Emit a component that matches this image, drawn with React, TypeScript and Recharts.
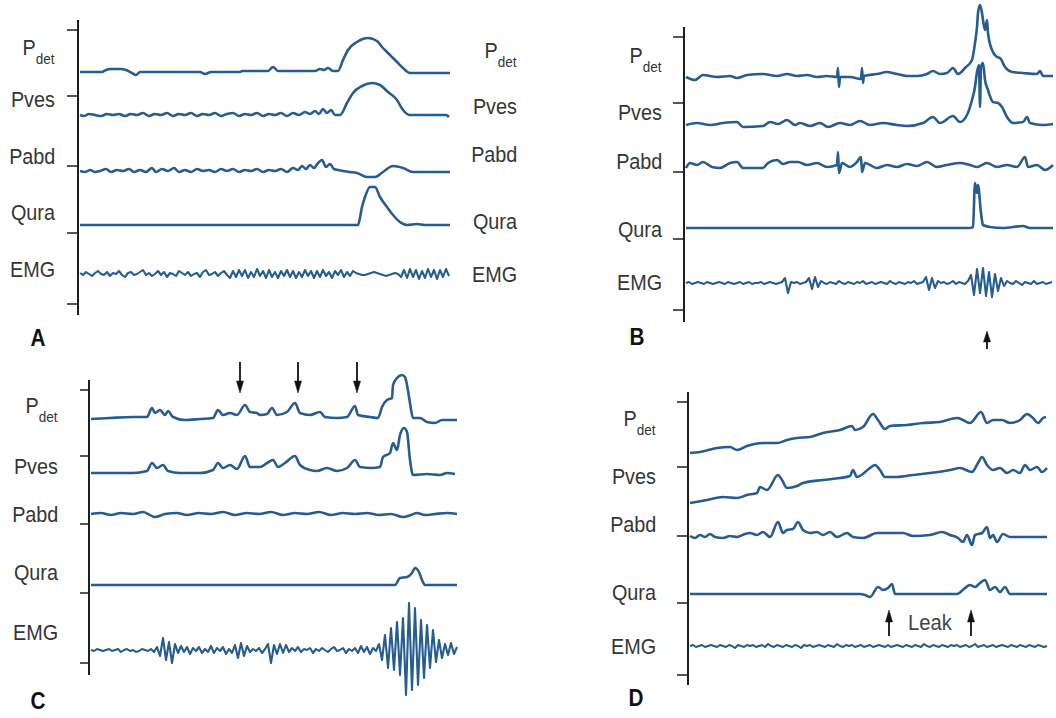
import React from 'react';
import { LineChart, Line, XAxis, YAxis, ReferenceLine } from 'recharts';

type Pt = [number, number];

const CHANNELS = ['Pdet', 'Pves', 'Pabd', 'Qura', 'EMG'];
const EMG_STEP = 3; // EMG lists are sampled every 3 time units

// ---------- Panel A ----------
const A_PDET: Pt[] = [[0,0],[22,0],[26,2],[31,3],[40,3],[46,2],[52,-1],[56,-3],[60,0],[120,0],[125,-2],[131,0],[160,0],[162,1],[188,1],[193,5],[198,1],[235,1],[240,3],[244,2],[248,4],[253,1],[258,1],[263,12],[268,22],[277,30],[288,34],[297,31],[302,25],[308,19],[317,10],[323,4],[330,-1],[370,-1]];
const A_PVES: Pt[] = [[0,0],[4,-1],[9,1],[15,0],[21,-1],[27,1],[33,0],[39,1],[45,-1],[51,1],[57,0],[63,2],[69,-1],[75,1],[81,0],[87,2],[93,-1],[99,1],[105,0],[111,2],[117,-1],[123,1],[129,0],[135,2],[141,-1],[147,1],[153,2],[159,-1],[165,1],[171,0],[177,2],[183,-1],[189,1],[195,0],[201,2],[207,-1],[213,2],[219,0],[225,3],[230,1],[235,4],[239,1],[243,6],[247,2],[251,5],[255,0],[260,0],[267,12],[273,22],[282,29],[292,32],[300,30],[308,23],[317,15],[323,5],[330,0],[366,0],[369,-2]];
const A_PABD: Pt[] = [[0,0],[5,-1],[10,1],[15,-1],[20,0],[26,2],[31,-1],[37,1],[43,0],[49,2],[54,-1],[60,1],[66,-1],[72,3],[76,-1],[82,2],[88,0],[94,3],[99,-1],[105,1],[111,-1],[117,2],[123,0],[129,1],[135,-1],[141,2],[147,0],[153,2],[159,-1],[165,1],[171,0],[177,2],[183,-1],[189,1],[195,0],[201,2],[207,-1],[213,3],[218,1],[222,5],[226,2],[230,6],[234,3],[238,8],[242,11],[246,4],[250,7],[254,2],[258,1],[263,0],[270,-1],[277,-2],[287,-6],[295,-6],[303,-1],[313,5],[323,3],[333,-1],[370,-1]];
const A_QURA: Pt[] = [[0,0],[278,0],[282,18],[285,28],[290,38],[295,38],[300,28],[307,18],[313,10],[320,3],[327,0],[337,1],[345,0],[370,0]];
const A_EMG: number[] = [
  1,-1,2,0,-2,1,3,0,-1,2,-2,1,0,3,-1,-3,1,2,-1,0,2,4,-1,1,-2,0,3,-1,2,-3,1,0,-2,3,1,-1,2,-2,0,1,-3,2,4,-1,0,2,-2,1,3,-1,
  -4,3,-3,4,-2,4,-4,2,-3,5,-2,3,-4,4,-3,2,-4,3,-2,4,-3,3,-4,2,-3,4,-2,3,-4,3,-3,4,-2,2,-4,3,-1,4,-3,2,-2,3,
  1,0,-1,-1,0,1,2,1,0,-1,-2,-1,0,1,0,
  -3,4,-4,5,-3,4,-5,3,-4,5,-3,4,-5,4,-3,5,-2,
];

// ---------- Panel B ----------
const B_PDET: Pt[] = [[0,-1],[9,-4],[17,1],[31,-1],[44,0],[51,-2],[61,1],[77,2],[91,0],[101,2],[111,0],[121,1],[131,-1],[141,0],[151,-1],[152,8],[153,-11],[154,-1],[164,-1],[175,-3],[176,8],[177,-7],[178,0],[191,2],[201,4],[211,2],[221,0],[231,0],[241,2],[247,5],[254,2],[261,3],[267,8],[272,2],[279,8],[286,16],[289,33],[291,49],[292,63],[294,71],[296,63],[297,56],[299,46],[301,56],[302,43],[306,26],[311,19],[314,18],[319,9],[326,4],[337,3],[351,2],[354,5],[357,0],[367,0]];
const B_PVES: Pt[] = [[0,0],[11,2],[24,0],[37,2],[51,3],[57,-2],[77,-1],[84,3],[92,1],[101,5],[109,0],[114,2],[124,-1],[134,2],[142,-2],[154,2],[164,0],[174,4],[184,0],[197,2],[211,0],[221,-1],[237,2],[247,8],[254,2],[267,9],[274,3],[281,10],[286,25],[289,38],[291,53],[293,60],[294,18],[295,58],[297,62],[299,45],[302,35],[307,23],[312,22],[316,18],[321,8],[327,2],[337,3],[341,8],[344,2],[357,0],[367,1]];
const B_PABD: Pt[] = [[0,-2],[4,3],[11,1],[17,4],[26,-1],[34,-2],[44,3],[51,4],[57,-2],[77,-2],[82,3],[91,6],[97,2],[104,4],[112,4],[121,1],[131,3],[141,-1],[151,1],[152,14],[153,-7],[156,3],[164,-1],[171,4],[175,9],[176,-6],[179,3],[191,-2],[201,1],[211,-1],[221,2],[231,0],[241,4],[251,-1],[261,1],[274,3],[284,1],[291,-1],[301,3],[311,-1],[321,1],[331,-1],[339,9],[342,-1],[351,1],[359,-4],[367,1]];
const B_QURA: Pt[] = [[0,0],[284,0],[287,1],[289,45],[291,35],[292,43],[295,15],[297,3],[304,1],[317,0],[337,2],[344,0],[367,0]];
const B_EMG: number[] = [
  0,1,-1,0,1,0,-1,1,0,-1,0,1,0,-1,1,0,-1,0,1,-1,0,1,-1,0,0,1,-1,0,1,0,-1,0,1,
  5,-10,1,
  0,1,-1,0,1,
  5,-6,6,-4,2,
  0,-1,1,0,-1,2,0,-1,1,0,-1,1,0,2,-1,0,1,-1,0,1,0,-1,2,0,-1,1,0,-1,1,0,2,-1,0,1,
  6,-7,5,-5,2,
  0,1,-1,0,2,-1,1,0,-1,2,
  8,-12,14,-10,15,-13,11,-14,9,-8,5,
  -3,2,0,-1,2,0,-2,1,0,-1,2,-1,0,1,-1,0,1,
];

// ---------- Panel C ----------
const C_PDET: Pt[] = [[0,0],[19,1],[42,2],[56,2],[61,11],[64,6],[69,9],[74,4],[77,8],[82,2],[94,-1],[109,0],[122,1],[127,9],[132,4],[139,6],[146,4],[154,14],[159,7],[166,6],[169,4],[176,5],[181,11],[186,4],[196,7],[204,16],[209,6],[219,4],[229,7],[234,2],[246,1],[256,2],[264,13],[267,4],[279,2],[287,1],[291,12],[296,19],[301,21],[302,34],[306,41],[311,44],[314,42],[316,34],[319,16],[322,1],[329,1],[336,-3],[344,-4],[351,-1],[366,-1]];
const C_PVES: Pt[] = [[0,0],[42,0],[56,2],[61,10],[66,5],[72,8],[77,2],[89,0],[109,0],[122,3],[127,10],[132,5],[139,8],[146,4],[154,17],[159,6],[169,6],[176,10],[182,13],[187,6],[194,10],[204,17],[209,8],[219,3],[226,2],[236,5],[246,2],[256,5],[264,13],[269,6],[281,5],[289,6],[292,16],[299,20],[302,30],[306,23],[309,38],[313,45],[316,41],[319,13],[322,-2],[336,-1],[349,-2],[356,0],[364,-1]];
const C_PABD: Pt[] = [[0,0],[10,1],[20,-1],[30,1],[42,0],[52,2],[64,-3],[74,0],[86,1],[96,-1],[108,1],[120,0],[132,2],[144,-1],[156,1],[168,0],[180,2],[192,-1],[204,1],[216,0],[228,2],[240,-1],[252,1],[264,0],[276,1],[288,-1],[300,0],[312,-3],[320,-1],[326,1],[334,-1],[344,0],[356,1],[366,0]];
const C_QURA: Pt[] = [[0,0],[304,0],[309,7],[316,8],[321,12],[324,17],[328,13],[331,5],[334,0],[366,0]];
const C_EMG: number[] = [
  0,-1,1,0,-1,0,1,-1,0,1,-2,0,1,-1,0,-2,-1,1,0,-1,
  1,-2,3,-6,12,-10,8,-13,6,-3,
  4,-2,3,-4,2,-1,3,-3,1,-2,4,-3,2,-1,3,-4,1,
  -3,5,-8,7,-6,4,-2,
  1,-1,2,-3,1,
  6,-13,5,-4,6,-3,5,-2,
  2,-1,3,-2,1,0,2,-3,1,-1,2,0,-2,1,3,-1,0,2,-3,1,-1,2,-3,4,-2,3,-4,2,-1,
  6,-10,15,-18,22,-20,28,-25,32,
  -45,47,-40,42,-35,30,
  -28,25,-18,20,-12,10,
  -8,6,-5,7,-4,3,
];

// ---------- Panel D ----------
const D_PDET: Pt[] = [[0,0],[10,1],[27,5],[40,6],[47,3],[57,7],[73,10],[87,10],[97,13],[107,15],[120,16],[133,20],[150,23],[162,27],[165,23],[173,26],[183,39],[188,33],[195,24],[200,27],[217,28],[233,30],[250,31],[267,35],[273,33],[280,30],[291,41],[297,30],[303,33],[312,33],[320,30],[330,33],[337,39],[343,35],[348,30],[353,35],[356,36]];
const D_PVES: Pt[] = [[0,0],[17,3],[33,6],[47,5],[57,8],[67,10],[70,16],[77,13],[88,28],[92,23],[97,15],[107,17],[113,20],[133,23],[150,25],[160,27],[163,33],[167,26],[180,35],[185,38],[190,33],[195,26],[207,26],[223,28],[240,30],[260,33],[270,35],[282,31],[288,40],[292,46],[297,38],[303,33],[310,35],[317,30],[323,33],[330,30],[335,38],[340,33],[347,36],[352,31],[357,35]];
const D_PABD: Pt[] = [[0,0],[5,-2],[10,1],[15,-1],[20,2],[25,-1],[33,-2],[40,0],[47,-1],[55,2],[60,3],[67,1],[73,4],[80,-1],[88,14],[93,3],[97,6],[103,7],[108,14],[113,6],[120,3],[127,4],[133,1],[140,4],[147,-1],[157,3],[163,-1],[173,-2],[187,3],[213,3],[223,0],[240,1],[252,4],[260,1],[268,-2],[273,-6],[277,1],[282,-9],[285,1],[292,3],[297,9],[300,-2],[303,1],[307,-6],[313,2],[320,-1],[333,-1],[357,-1]];
const D_QURA: Pt[] = [[0,0],[170,0],[175,-1],[180,-3],[188,7],[193,4],[198,6],[202,10],[205,0],[267,0],[275,6],[280,9],[285,7],[290,11],[295,14],[300,4],[305,7],[310,2],[315,7],[320,0],[357,0]];
const D_EMG: number[] = [
  0,1,-1,0,1,-1,0,1,0,-1,1,0,-1,1,0,-2,1,0,-1,1,0,1,-1,0,1,-1,2,0,-1,1,
  0,-1,1,0,-1,1,0,-2,1,0,1,-1,0,1,0,-1,1,0,-1,2,0,-1,1,0,1,-1,0,1,-1,0,
  1,-1,0,1,0,-1,1,-1,0,1,0,-1,1,0,-1,1,0,-1,2,0,-1,1,0,-1,1,0,-1,1,0,1,
  -1,0,1,-1,0,2,-1,0,1,-1,0,1,-1,0,1,0,-1,1,0,-1,1,0,-1,1,0,-1,1,0,-1,0,
];

// annotation arrows (time positions)
const B_ARROW_T = [301];
const C_ARROW_T = [149, 207, 266];
const D_LEAK_T = [199, 281];

const toPts = (vals: number[]): Pt[] => vals.map((v, i) => [i * EMG_STEP, v]);

const TRACE = '#265c90';
const INK = '#1e1e1e';
const TEXT = '#353535';
const FONT = '"Liberation Sans", Arial, Helvetica, sans-serif';

interface PanelSpec {
  letter: string;
  box: { left: number; top: number; w: number; h: number };
  t0: number; // pixel offset of time 0 inside the box
  base: number[]; // channel baselines (box y)
  axis: [number, number];
  ticks: number[];
  tickLen: number;
  traces: Pt[][];
  labelCols: { right: number; ys: number[] }[];
  letterPos: [number, number];
}

const PANELS: PanelSpec[] = [
  {
    letter: 'A',
    box: { left: 0, top: 0, w: 528, h: 355 },
    t0: 80,
    base: [72, 115, 171, 225, 274],
    axis: [20, 315],
    ticks: [30, 96, 166, 233, 304],
    tickLen: 11,
    traces: [A_PDET, A_PVES, A_PABD, A_QURA, toPts(A_EMG)],
    labelCols: [
      { right: 55, ys: [48, 100, 157, 213, 270] },
      { right: 517, ys: [51, 107, 155, 222, 275] },
    ],
    letterPos: [38, 338],
  },
  {
    letter: 'B',
    box: { left: 528, top: 0, w: 528, h: 355 },
    t0: 158,
    base: [76, 125, 166, 228, 283],
    axis: [27, 322],
    ticks: [37, 103, 172, 239, 310],
    tickLen: 11,
    traces: [B_PDET, B_PVES, B_PABD, B_QURA, toPts(B_EMG)],
    labelCols: [{ right: 662, ys: [56, 113, 162, 230, 283] }],
    letterPos: [637, 337],
  },
  {
    letter: 'C',
    box: { left: 0, top: 355, w: 528, h: 363 },
    t0: 91,
    base: [64, 118, 159, 230, 295],
    axis: [25, 320],
    ticks: [35, 101, 169, 238, 308],
    tickLen: 9,
    traces: [C_PDET, C_PVES, C_PABD, C_QURA, toPts(C_EMG)],
    labelCols: [{ right: 58, ys: [406, 467, 515, 573, 633] }],
    letterPos: [38, 701],
  },
  {
    letter: 'D',
    box: { left: 528, top: 355, w: 528, h: 363 },
    t0: 162,
    base: [98, 148, 181, 239, 291],
    axis: [37, 330],
    ticks: [47, 112, 181, 248, 320],
    tickLen: 11,
    traces: [D_PDET, D_PVES, D_PABD, D_QURA, toPts(D_EMG)],
    labelCols: [{ right: 656, ys: [419, 477, 525, 593, 647] }],
    letterPos: [636, 698],
  },
];

function buildRows(traces: Pt[][], base: number[], h: number) {
  const map = new Map<number, Record<string, number>>();
  traces.forEach((pts, ci) => {
    pts.forEach(([t, v]) => {
      const row = map.get(t) ?? { t };
      row[`c${ci}`] = h - base[ci] + v;
      map.set(t, row);
    });
  });
  return [...map.values()].sort((a, b) => a.t - b.t);
}

const ChannelLabel: React.FC<{ name: string; right: number; y: number }> = ({ name, right, y }) => (
  <div
    style={{
      position: 'absolute',
      right: 1056 - right,
      top: y,
      transform: 'translateY(-50%) scaleX(0.9)',
      transformOrigin: 'right center',
      fontFamily: FONT,
      fontSize: 22,
      lineHeight: 1,
      color: TEXT,
      whiteSpace: 'nowrap',
    }}
  >
    {name === 'Pdet' ? (
      <>
        P<span style={{ fontSize: 15, position: 'relative', top: 9 }}>det</span>
      </>
    ) : (
      name
    )}
  </div>
);

const Panel: React.FC<{ spec: PanelSpec }> = ({ spec }) => {
  const { box, t0, base, axis, ticks, tickLen } = spec;
  const rows = buildRows(spec.traces, base, box.h);
  const yv = (y: number) => box.h - y;
  const ax = -2;
  return (
    <div style={{ position: 'absolute', left: box.left, top: box.top }}>
      <LineChart width={box.w} height={box.h} data={rows} margin={{ top: 0, right: 0, bottom: 0, left: 0 }}>
        <XAxis type="number" dataKey="t" domain={[-t0, box.w - t0]} hide allowDataOverflow />
        <YAxis type="number" domain={[0, box.h]} hide allowDataOverflow />
        <ReferenceLine
          segment={[{ x: ax, y: yv(axis[0]) }, { x: ax, y: yv(axis[1]) }]}
          stroke={INK}
          strokeWidth={2}
        />
        {ticks.map((ty) => (
          <ReferenceLine
            key={ty}
            segment={[{ x: ax - tickLen, y: yv(ty) }, { x: ax, y: yv(ty) }]}
            stroke={INK}
            strokeWidth={1.5}
          />
        ))}
        {CHANNELS.map((c, i) => (
          <Line
            key={c}
            dataKey={`c${i}`}
            type={i === 4 ? 'linear' : 'monotone'}
            stroke={TRACE}
            strokeWidth={i === 4 ? 2.1 : 2.6}
            strokeLinejoin="round"
            dot={false}
            activeDot={false}
            connectNulls
            isAnimationActive={false}
          />
        ))}
      </LineChart>
    </div>
  );
};

const arrowX = (p: PanelSpec, t: number) => p.box.left + p.t0 + t;

export default function App() {
  const [, pB, pC, pD] = PANELS;
  return (
    <div style={{ position: 'absolute', left: 0, top: 0, width: 1056, height: 718, background: '#fff', overflow: 'hidden' }}>
      {PANELS.map((p) => (
        <Panel key={p.letter} spec={p} />
      ))}
      {PANELS.map((p) =>
        p.labelCols.map((col, ci) =>
          CHANNELS.map((name, i) => (
            <ChannelLabel key={`${p.letter}-${ci}-${name}`} name={name} right={col.right} y={col.ys[i]} />
          ))
        )
      )}
      {PANELS.map((p) => (
        <div
          key={`L${p.letter}`}
          style={{
            position: 'absolute',
            left: p.letterPos[0],
            top: p.letterPos[1],
            transform: 'translate(-50%, -50%) scaleX(0.9)',
            fontFamily: FONT,
            fontWeight: 700,
            fontSize: 23,
            lineHeight: 1,
            color: '#111',
          }}
        >
          {p.letter}
        </div>
      ))}
      <div
        style={{
          position: 'absolute',
          left: 930,
          top: 623,
          transform: 'translate(-50%, -50%) scaleX(0.92)',
          fontFamily: FONT,
          fontSize: 22,
          lineHeight: 1,
          color: '#444',
        }}
      >
        Leak
      </div>
      <svg width={1056} height={718} style={{ position: 'absolute', left: 0, top: 0, pointerEvents: 'none' }}>
        {B_ARROW_T.map((t) => {
          const x = arrowX(pB, t);
          return (
            <g key={`b${t}`} fill="#111" stroke="#111">
              <line x1={x} y1={340} x2={x} y2={349} strokeWidth={1.8} />
              <polygon points={`${x},331 ${x - 3.5},342 ${x + 3.5},342`} strokeWidth={0.5} />
            </g>
          );
        })}
        {C_ARROW_T.map((t) => {
          const x = arrowX(pC, t);
          return (
            <g key={`c${t}`} fill="#111" stroke="#111">
              <line x1={x} y1={362} x2={x} y2={384} strokeWidth={1.8} />
              <polygon points={`${x - 3.5},381 ${x + 3.5},381 ${x},393`} strokeWidth={0.5} />
            </g>
          );
        })}
        {D_LEAK_T.map((t) => {
          const x = arrowX(pD, t);
          return (
            <g key={`d${t}`} fill="#111" stroke="#111">
              <line x1={x} y1={620} x2={x} y2={636} strokeWidth={1.8} />
              <polygon points={`${x},610 ${x - 3.5},622 ${x + 3.5},622`} strokeWidth={0.5} />
            </g>
          );
        })}
      </svg>
    </div>
  );
}
